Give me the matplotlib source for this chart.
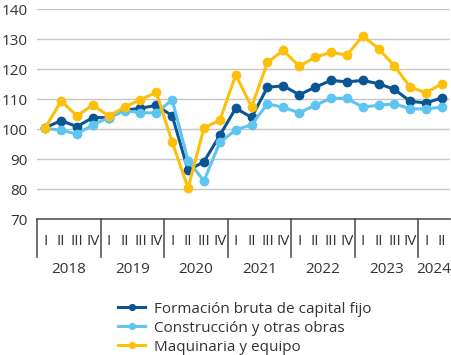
import matplotlib.pyplot as plt
from matplotlib.transforms import blended_transform_factory

years = ["2018", "2019", "2020", "2021", "2022", "2023", "2024"]
quarters = ["I", "II", "III", "IV"]

fbcf = [100.5, 102.9, 100.9, 103.9, 103.9, 106.4, 107.0, 108.0,
        104.5, 86.3, 89.2, 98.0, 107.0, 104.0, 114.0, 114.5,
        111.5, 114.0, 116.3, 115.8, 116.3, 115.2, 113.3, 109.3,
        108.8, 110.5]
construccion = [100.3, 99.7, 98.4, 101.5, 103.9, 106.2, 105.5, 105.5,
                109.8, 89.5, 82.8, 95.6, 99.8, 101.5, 108.5, 107.3,
                105.5, 108.0, 110.3, 110.3, 107.4, 108.0, 108.5, 106.8,
                106.8, 107.4]
maquinaria = [100.5, 109.4, 104.5, 108.1, 104.4, 107.4, 109.9, 112.3,
              95.7, 80.4, 100.5, 103.0, 118.1, 107.5, 122.3, 126.3,
              121.0, 124.0, 125.7, 124.7, 131.1, 126.9, 121.1, 114.0,
              112.2, 115.2]

series = [
    ("Formación bruta de capital fijo", fbcf, "#0b5592"),
    ("Construcción y otras obras", construccion, "#5ec4f1"),
    ("Maquinaria y equipo", maquinaria, "#fcbf0a"),
]

plt.rcParams["font.family"] = ["Open Sans", "DejaVu Sans"]
txt = "#333333"
fs = 11

fig = plt.figure(figsize=(4.52, 3.55), dpi=100)
ax = fig.add_axes([0.0825, 0.3823, 0.9131, 0.5915])

x = [i + 0.5 for i in range(len(fbcf))]
handles = []
for name, vals, color in series:
    h, = ax.plot(x, vals, color=color, lw=2.2, marker="o", ms=6,
                 label=name, zorder=3)
    handles.append(h)

ax.set_xlim(0, len(fbcf))
ax.set_ylim(70, 140)
ax.set_yticks(range(70, 141, 10))
ax.grid(axis="y", color="#c6c6c6", lw=1)
ax.set_axisbelow(True)
for s in ["top", "right", "left"]:
    ax.spines[s].set_visible(False)
ax.spines["bottom"].set_color("#555555")
ax.spines["bottom"].set_linewidth(1.2)
ax.tick_params(axis="y", length=0, pad=7, labelsize=fs, labelcolor=txt)
ax.set_xticks([])

# quarter labels, year labels and separators under the axis
trans = blended_transform_factory(ax.transData, ax.transAxes)
for k, yr in enumerate(years):
    start = 4 * k
    nq = 4 if yr != "2024" else 2
    ax.plot([start, start], [0, -0.18], color="#555555", lw=1.2,
            transform=trans, clip_on=False)
    for q in range(nq):
        ax.text(start + q + 0.5, -0.105, quarters[q], transform=trans,
                ha="center", va="center", fontsize=fs, color=txt)
    ax.text(start + nq / 2, -0.24, yr, transform=trans, ha="center",
            va="center", fontsize=fs, color=txt)

fig.legend(handles=handles, loc="upper left", bbox_to_anchor=(0.245, 0.172),
           frameon=False, fontsize=fs, handlelength=1.75, handletextpad=0.6,
           labelspacing=0.26, markerscale=0.7, borderpad=0, labelcolor=txt)

fig.savefig("out.png", dpi=100)
